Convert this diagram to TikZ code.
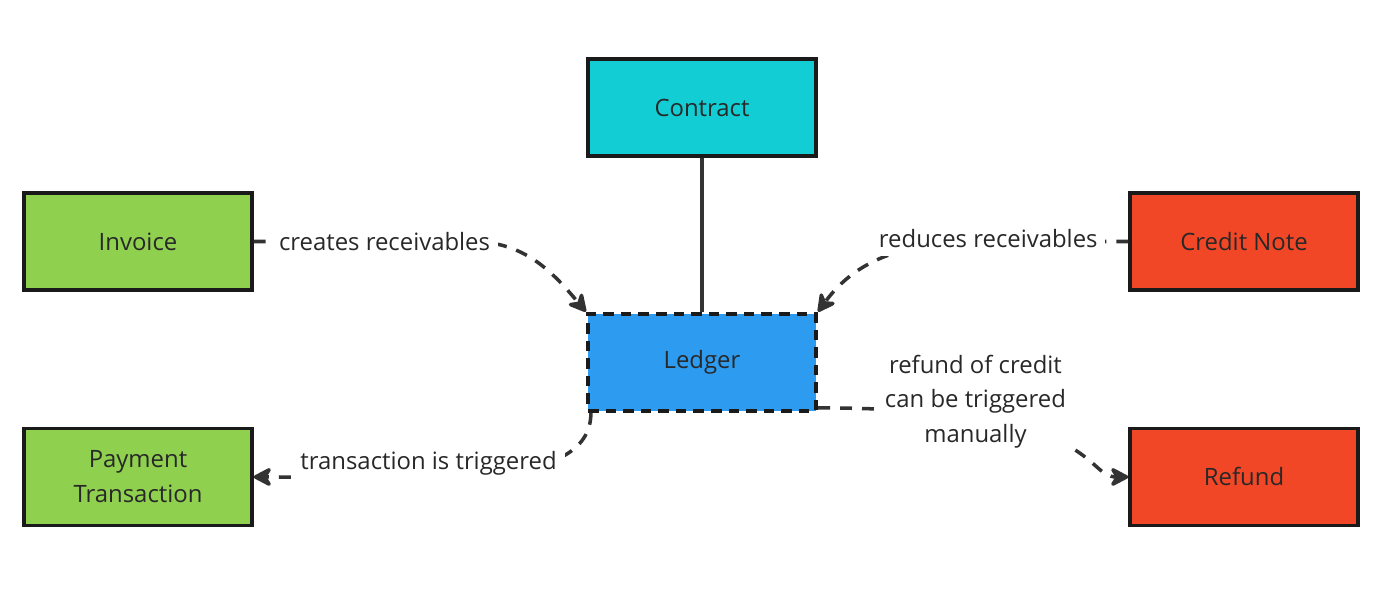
\documentclass[tikz,border=0pt]{standalone}
\usepackage{fontspec}
\setmainfont{Open Sans}
\usetikzlibrary{arrows.meta,positioning}

\begin{document}
\begin{tikzpicture}[
    x=0.02cm, y=0.02cm,
    font=\fontsize{13.6}{19.8}\selectfont,
    box/.style={draw=boxc, line width=2pt, minimum width=4.56cm, minimum height=1.94cm, align=center, text=textc},
    flow/.style={line width=2pt, draw=linec, dash pattern=on 6.8pt off 5.7pt, -{Stealth[length=4.4mm,width=4.6mm,inset=1.4mm,round]}},
    lbl/.style={fill=white, text=textc, inner sep=4.5pt, align=center}
  ]
    \definecolor{boxc}{RGB}{26,26,26}
    \definecolor{linec}{RGB}{51,51,51}
    \definecolor{textc}{RGB}{40,40,40}
    \definecolor{contractc}{RGB}{18,205,212}
    \definecolor{ledgerc}{RGB}{45,155,240}
    \definecolor{greenc}{RGB}{143,209,79}
    \definecolor{redc}{RGB}{242,71,38}

    \useasboundingbox (0,0) rectangle (1387,596);

    \node[box, fill=contractc] (contract) at (702,488.5) {Contract};
    \node[box, fill=ledgerc, line width=2.4pt, dash pattern=on 6pt off 4pt, below=3.08cm of contract] (ledger) {Ledger};
    \node[box, fill=greenc] (invoice) at (138,354.5) {Invoice};
    \node[box, fill=greenc, below=2.7cm of invoice] (payment) {Payment\\Transaction};
    \node[box, fill=redc] (credit) at (1244,354.5) {Credit Note};
    \node[box, fill=redc, below=2.7cm of credit] (refund) {Refund};

    \draw[line width=2pt, draw=linec] (contract) -- (ledger);
    \draw[flow] (invoice.east) -- node[lbl, pos=0.6]{creates receivables} ++(218,0) to[out=0,in=130] (ledger.north west);
    \draw[flow] (credit.west) -- node[lbl, pos=1, yshift=0.05cm]{reduces receivables} ++(-140,0) to[out=180,in=54] (ledger.north east);
    \draw[flow] ([xshift=0.1cm]ledger.south west) .. controls +(0,-80) and +(170,0) .. node[lbl, pos=0.64, yshift=0.3cm]{transaction is triggered} (payment.east);
    \draw[flow] ([yshift=0.1cm]ledger.south east) .. controls +(285,0) and +(-45,0) .. node[lbl, pos=0.25, xshift=-0.1cm, yshift=0.34cm]{refund of credit\\can be triggered\\manually} (refund.west);
  \end{tikzpicture}
\end{document}
